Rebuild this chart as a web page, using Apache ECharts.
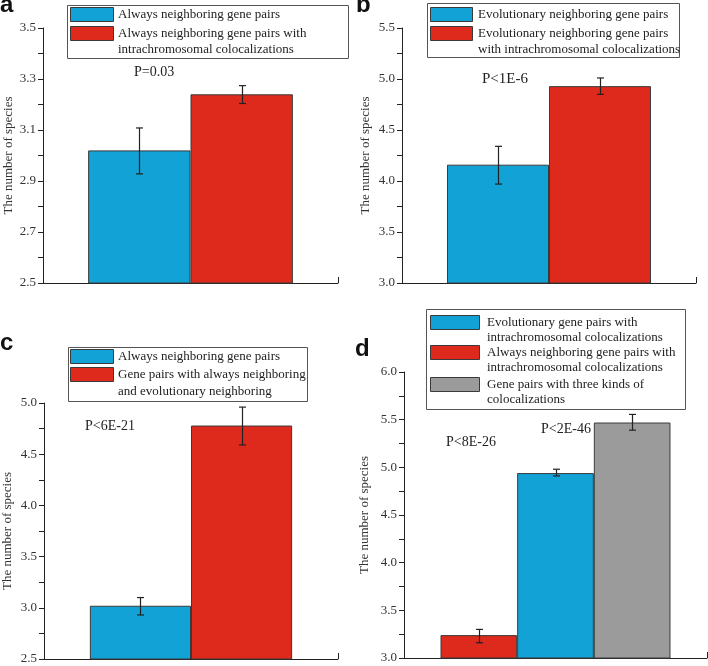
<!DOCTYPE html>
<html>
<head>
<meta charset="utf-8">
<script src="https://cdn.jsdelivr.net/npm/echarts@6/dist/echarts.min.js"></script>
<style>html,body{margin:0;padding:0;background:#fff;}#c{width:708px;height:666px;}</style>
</head>
<body>
<div id="c"></div>
<script>
// ---------- data ----------
const category = ['group'];

const panelALabels = ['Always neighboring gene pairs', 'Always neighboring gene pairs with\nintrachromosomal colocalizations'];
const panelAValues = [3.02, 3.24];
const panelALow = [2.928, 3.204];
const panelAHigh = [3.108, 3.274];
const panelAP = 'P=0.03';

const panelBLabels = ['Evolutionary neighboring gene pairs', 'Evolutionary neighboring gene pairs\nwith intrachromosomal colocalizations'];
const panelBValues = [4.16, 4.93];
const panelBLow = [3.97, 4.85];
const panelBHigh = [4.34, 5.01];
const panelBP = 'P<1E-6';

const panelCLabels = ['Always neighboring gene pairs', 'Gene pairs with always neighboring\nand evolutionary neighboring'];
const panelCValues = [3.02, 4.78];
const panelCLow = [2.93, 4.59];
const panelCHigh = [3.10, 4.96];
const panelCP = 'P<6E-21';

const panelDLabels = ['Always neighboring gene pairs with\nintrachromosomal colocalizations', 'Evolutionary gene pairs with\nintrachromosomal colocalizations', 'Gene pairs with three kinds of\ncolocalizations'];
const panelDValues = [3.24, 4.94, 5.47];
const panelDLow = [3.16, 4.91, 5.39];
const panelDHigh = [3.30, 4.98, 5.555];
const panelDP = ['P<8E-26', 'P<2E-46'];

const yTitle = 'The number of species';
const panelLetters = ['a', 'b', 'c', 'd'];

// ---------- style ----------
const BLUE = '#12a2d5', RED = '#dd2a1c', GREY = '#9b9b9b';
const SERIF = '"Liberation Serif","DejaVu Serif",serif';
const SANS = '"Liberation Sans",Arial,sans-serif';
const AXC = '#222';

const panels = [
  {grid:{left:43, top:28, width:295, height:255}, min:2.5, max:3.5, interval:0.2, nameGap:28,
   values:panelAValues, low:panelALow, high:panelAHigh, names:panelALabels, colors:[BLUE, RED], frac:0.347},
  {grid:{left:402, top:28, width:294, height:255}, min:3.0, max:5.5, interval:0.5, nameGap:30,
   values:panelBValues, low:panelBLow, high:panelBHigh, names:panelBLabels, colors:[BLUE, RED], frac:0.347},
  {grid:{left:43, top:403, width:295, height:256}, min:2.5, max:5.0, interval:0.5, nameGap:30,
   values:panelCValues, low:panelCLow, high:panelCHigh, names:panelCLabels, colors:[BLUE, RED], frac:0.344},
  {grid:{left:404, top:372, width:303, height:286}, min:3.0, max:6.0, interval:0.5, nameGap:33,
   values:panelDValues, low:panelDLow, high:panelDHigh, names:panelDLabels, colors:[RED, BLUE, GREY], frac:0.253}
];

const grids = [], xAxes = [], yAxes = [], series = [];
panels.forEach((p, i) => {
  grids.push(Object.assign({containLabel:false}, p.grid));
  xAxes.push({
    type:'category', gridIndex:i, data:category, boundaryGap:true,
    axisLine:{show:true, lineStyle:{color:AXC, width:1}},
    axisTick:{show:true, inside:true, length:6, lineStyle:{color:AXC}},
    axisLabel:{show:false}, splitLine:{show:false}
  });
  yAxes.push({
    type:'value', gridIndex:i, min:p.min, max:p.max, interval:p.interval,
    name:yTitle, nameLocation:'middle', nameGap:p.nameGap,
    nameTextStyle:{fontFamily:SERIF, fontSize:13, color:'#333'},
    axisLine:{show:true, lineStyle:{color:AXC, width:1}},
    axisTick:{show:true, length:5, lineStyle:{color:AXC}},
    minorTick:{show:true, splitNumber:2, length:5, lineStyle:{color:AXC}},
    splitLine:{show:false}, minorSplitLine:{show:false},
    axisLabel:{fontFamily:SERIF, fontSize:13, color:'#333', margin:7, formatter:v => v.toFixed(1)}
  });
  const n = p.values.length;
  p.values.forEach((v, k) => {
    series.push({
      type:'bar', name:p.names[k], xAxisIndex:i, yAxisIndex:i,
      data:[v], barWidth:(p.frac*100)+'%', barGap:'0%',
      itemStyle:{color:p.colors[k], borderColor:'#3a3a3a', borderWidth:1},
      silent:true, animation:false
    });
  });
  series.push({
    type:'custom', xAxisIndex:i, yAxisIndex:i, animation:false, silent:true, z:5,
    encode:{x:0, y:[1,2]},
    data:p.values.map((v, k) => [0, p.low[k], p.high[k]]),
    renderItem:function(params, api){
      const idx = params.dataIndex;
      const bw = api.size([1, 0])[0];
      const off = (idx - (n - 1) / 2) * p.frac * bw;
      const top = api.coord([api.value(0), api.value(2)]);
      const bot = api.coord([api.value(0), api.value(1)]);
      const x = Math.round(top[0] + off) + 0.5;
      const cap = 3.5;
      const st = {stroke:'#222', lineWidth:1.2};
      return {type:'group', children:[
        {type:'line', shape:{x1:x, y1:top[1], x2:x, y2:bot[1]}, style:st},
        {type:'line', shape:{x1:x-cap, y1:top[1], x2:x+cap, y2:top[1]}, style:st},
        {type:'line', shape:{x1:x-cap, y1:bot[1], x2:x+cap, y2:bot[1]}, style:st}
      ]};
    }
  });
});

// ---------- legends & annotations (graphic) ----------
const legendLayouts = [
  {box:[67,5,281,53], sx:70, sw:43, sh:14, tops:[7,26], tx:118, lh:16, names:panelALabels, colors:[BLUE, RED]},
  {box:[427,3,252,54], sx:430, sw:42, sh:14, tops:[7,26], tx:478, lh:16, names:panelBLabels, colors:[BLUE, RED]},
  {box:[68,347,239,54], sx:70, sw:43, sh:14, tops:[349,367], tx:118, lh:17.5, names:panelCLabels, colors:[BLUE, RED]},
  {box:[426,309,259,100], sx:430, sw:49, sh:14, tops:[315,345,377], tx:487, lh:15.5,
   names:[panelDLabels[1], panelDLabels[0], panelDLabels[2]], colors:[BLUE, RED, GREY]}
];
const graphic = [];
legendLayouts.forEach(L => {
  graphic.push({type:'rect', shape:{x:L.box[0]+0.5, y:L.box[1]+0.5, width:L.box[2], height:L.box[3]},
    style:{fill:'#fff', stroke:'#555', lineWidth:1}, z:10});
  L.names.forEach((nm, k) => {
    graphic.push({type:'rect', shape:{x:L.sx+0.5, y:L.tops[k]+0.5, width:L.sw, height:L.sh},
      style:{fill:L.colors[k], stroke:'#3a3a3a', lineWidth:1}, z:11});
    graphic.push({type:'text', x:L.tx, y:L.tops[k] + L.sh/2 - L.lh/2 + 0.5, z:11,
      style:{text:nm, fontFamily:SERIF, fontSize:13, fill:'#222', lineHeight:L.lh, verticalAlign:'top', align:'left'}});
  });
});
const pTexts = [
  {t:panelAP, x:134, y:72, s:14},
  {t:panelBP, x:482, y:79, s:15},
  {t:panelCP, x:85, y:426, s:14},
  {t:panelDP[0], x:446, y:442, s:14},
  {t:panelDP[1], x:541, y:429, s:14}
];
pTexts.forEach(p => graphic.push({type:'text', x:p.x, y:p.y, z:11,
  style:{text:p.t, fontFamily:SERIF, fontSize:p.s, fill:'#222', verticalAlign:'middle'}}));
const letterPos = [[0,17],[356,17],[0,355],[355,361]];
panelLetters.forEach((l, k) => graphic.push({type:'text', x:letterPos[k][0], y:letterPos[k][1], z:11,
  style:{text:l, fontFamily:SANS, fontWeight:'bold', fontSize:24, fill:'#111', verticalAlign:'bottom'}}));

const chart = echarts.init(document.getElementById('c'), null, {renderer:'canvas'});
chart.setOption({
  animation:false, backgroundColor:'#fff',
  grid:grids, xAxis:xAxes, yAxis:yAxes, series:series, graphic:graphic
});
</script>
</body>
</html>
